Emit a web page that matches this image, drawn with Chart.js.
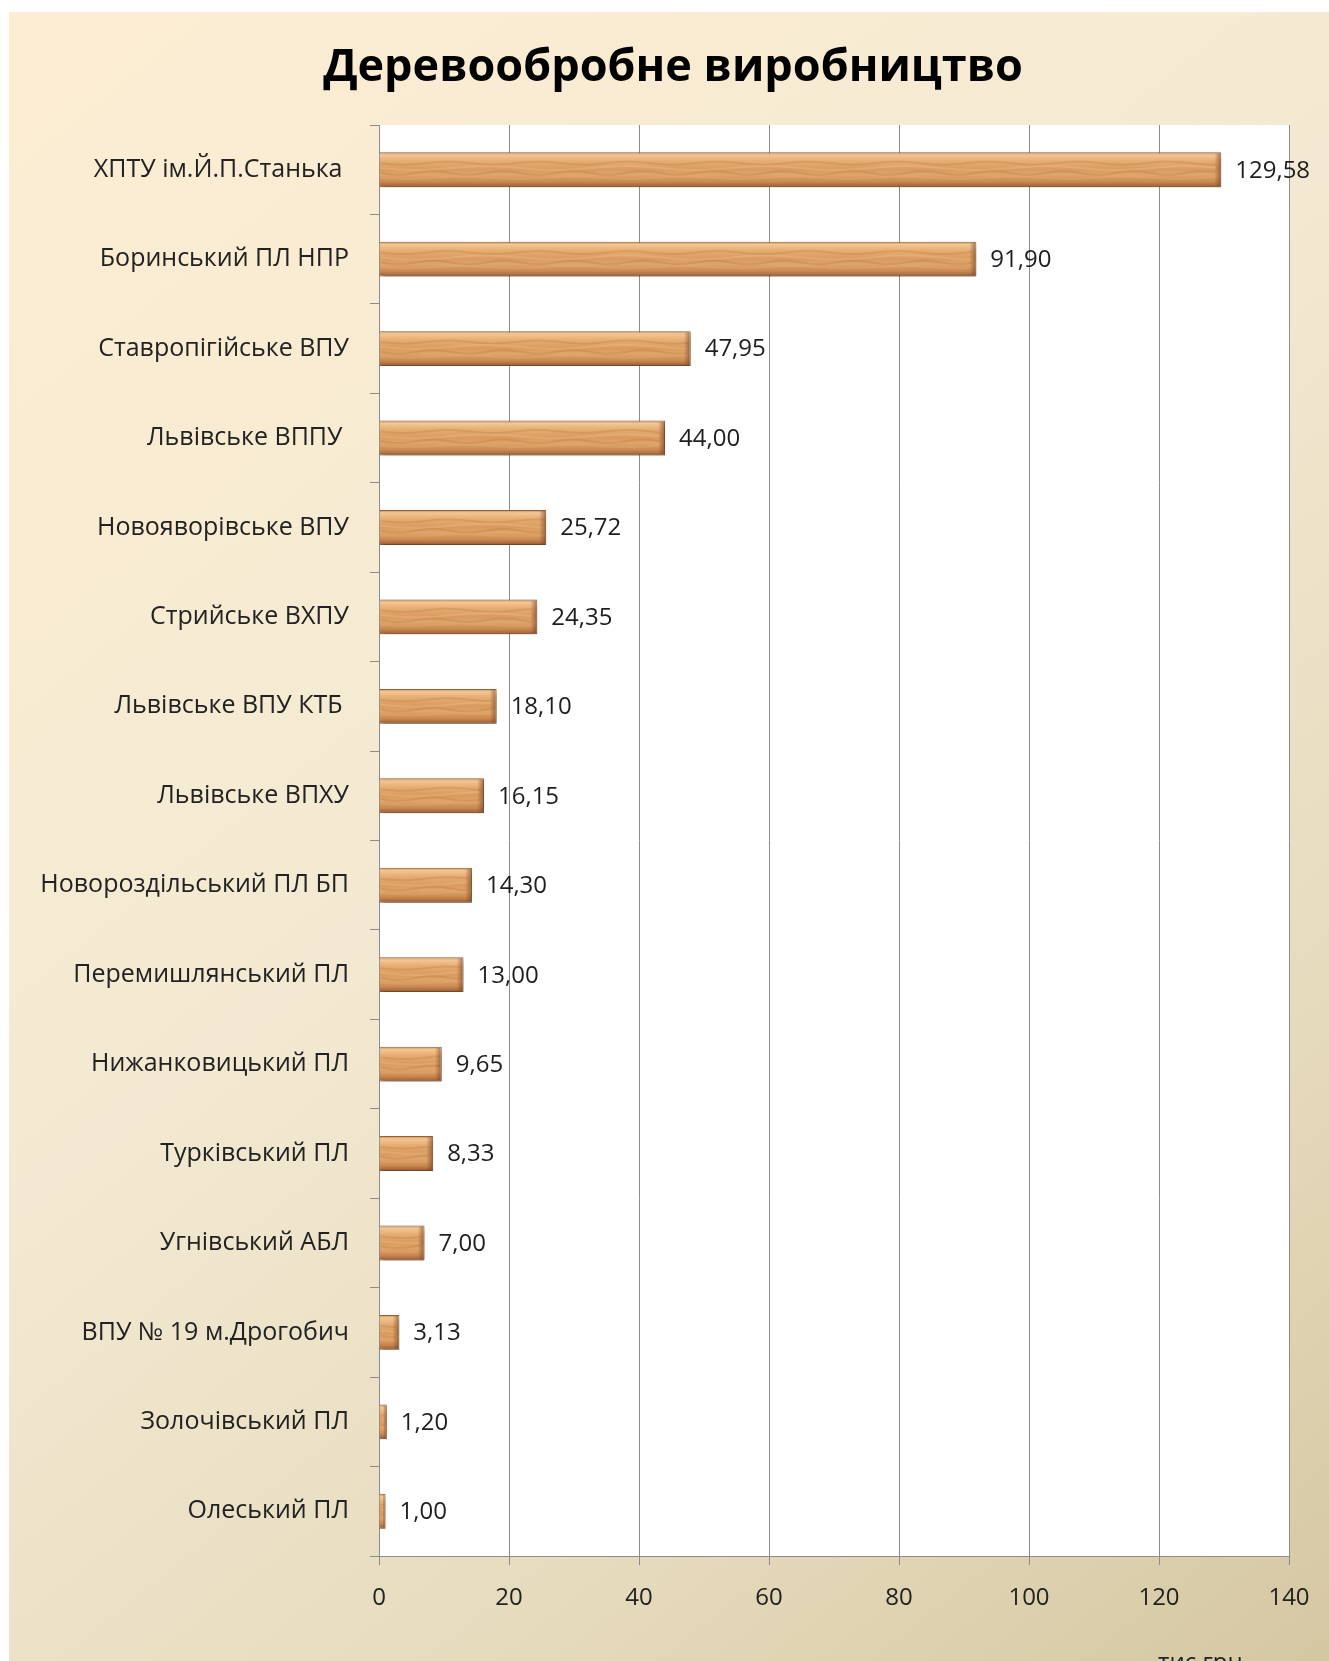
<!DOCTYPE html>
<html>
<head>
<meta charset="utf-8">
<script src="https://cdn.jsdelivr.net/npm/chart.js@4/dist/chart.umd.min.js"></script>
<style>
    html, body { margin: 0; padding: 0; background: #fff; }
    #wrap { width: 1329px; height: 1661px; }
</style>
</head>
<body>
<div id="wrap"><canvas id="chart"></canvas></div>
<script>
    const categories = [
        'ХПТУ ім.Й.П.Станька ',
        'Боринський ПЛ НПР',
        'Ставропігійське ВПУ',
        'Львівське ВППУ ',
        'Новояворівське ВПУ',
        'Стрийське ВХПУ',
        'Львівське ВПУ КТБ ',
        'Львівське ВПХУ',
        'Новороздільський ПЛ БП',
        'Перемишлянський ПЛ',
        'Нижанковицький ПЛ',
        'Турківський ПЛ',
        'Угнівський АБЛ',
        'ВПУ № 19 м.Дрогобич',
        'Золочівський ПЛ',
        'Олеський ПЛ'
    ];
    const values = [129.58, 91.90, 47.95, 44.00, 25.72, 24.35, 18.10, 16.15, 14.30, 13.00, 9.65, 8.33, 7.00, 3.13, 1.20, 1.00];
    const xTicks = [0, 20, 40, 60, 80, 100, 120, 140];
    const unitLabel = 'тис.грн.';

    Chart.defaults.font.family = 'Open Sans';
    Chart.defaults.color = '#222';

    const formatValue = v => v.toFixed(2).replace('.', ',');

    // a few soft wavy streaks so the bars read as wood
    function drawGrain(ctx, left, top, w, h) {
        ctx.save();
        ctx.beginPath();
        ctx.rect(left, top, w, h);
        ctx.clip();
        const rows = [
            { f: 0.3, a: 0.2, c: '#a5622f', amp: 1.5, len: 90 },
            { f: 0.45, a: 0.25, c: '#f5cf9f', amp: 2, len: 140 },
            { f: 0.6, a: 0.22, c: '#a9672f', amp: 1.8, len: 70 },
            { f: 0.74, a: 0.2, c: '#edbb85', amp: 1.2, len: 110 }
        ];
        rows.forEach(r => {
            ctx.globalAlpha = r.a;
            ctx.strokeStyle = r.c;
            ctx.lineWidth = 2;
            ctx.beginPath();
            for (let x = left; x <= left + w; x += 4) {
                const y = top + h * r.f + Math.sin((x - left) / r.len * Math.PI * 2) * r.amp;
                if (x === left) ctx.moveTo(x, y); else ctx.lineTo(x, y);
            }
            ctx.stroke();
        });
        // darker bevel at the right end
        ctx.globalAlpha = 1;
        const endW = Math.min(6, w / 2);
        const eg = ctx.createLinearGradient(left + w - endW, 0, left + w, 0);
        eg.addColorStop(0, 'rgba(120, 70, 40, 0)');
        eg.addColorStop(1, 'rgba(110, 60, 30, 0.55)');
        ctx.fillStyle = eg;
        ctx.fillRect(left + w - endW, top, endW, h);
        ctx.restore();
    }

    // background, white plot area, bar shading and value labels
    const decor = {
        id: 'decor',
        beforeDraw(chart) {
            const { ctx, width, height, chartArea } = chart;
            ctx.save();
            ctx.fillStyle = '#fff';
            ctx.fillRect(0, 0, width, height);
            const bg = ctx.createLinearGradient(0, 0, width, height);
            bg.addColorStop(0, '#fdeed3');
            bg.addColorStop(0.45, '#f3e9d2');
            bg.addColorStop(0.75, '#e6dbbd');
            bg.addColorStop(1, '#d5c7a2');
            ctx.fillStyle = bg;
            ctx.fillRect(9, 12, width - 9, height - 12);
            ctx.fillStyle = '#fff';
            ctx.fillRect(chartArea.left, chartArea.top, chartArea.right - chartArea.left, chartArea.bottom - chartArea.top);
            ctx.restore();
        },
        beforeDatasetsDraw(chart) {
            const { ctx } = chart;
            chart.getDatasetMeta(0).data.forEach(bar => {
                const top = bar.y - bar.height / 2;
                const g = ctx.createLinearGradient(0, top, 0, top + bar.height);
                g.addColorStop(0, '#c58650');
                g.addColorStop(0.08, '#f3c795');
                g.addColorStop(0.25, '#e6ad72');
                g.addColorStop(0.5, '#d99a5e');
                g.addColorStop(0.65, '#e0a56a');
                g.addColorStop(0.85, '#c9884f');
                g.addColorStop(0.95, '#a86a3e');
                g.addColorStop(1, '#8a5531');
                bar.options.backgroundColor = g;
            });
            ctx.save();
            ctx.shadowColor = 'rgba(0, 0, 0, 0.35)';
            ctx.shadowBlur = 5;
            ctx.shadowOffsetX = 2;
            ctx.shadowOffsetY = 3;
        },
        afterDatasetsDraw(chart) {
            const { ctx } = chart;
            ctx.restore();
            const bars = chart.getDatasetMeta(0).data;
            bars.forEach(bar => {
                const left = Math.min(bar.x, bar.base);
                drawGrain(ctx, left + 1, bar.y - bar.height / 2 + 1, Math.abs(bar.x - bar.base) - 2, bar.height - 2);
            });
            ctx.save();
            ctx.font = '24px "Open Sans"';
            ctx.fillStyle = '#1e1e1e';
            ctx.textAlign = 'left';
            ctx.textBaseline = 'middle';
            bars.forEach((bar, i) => {
                ctx.fillText(formatValue(values[i]), bar.x + 14, bar.y + 1);
            });
            ctx.restore();
        },
        afterDraw(chart) {
            const { ctx, chartArea } = chart;
            ctx.save();
            ctx.font = '24px "Open Sans"';
            ctx.fillStyle = '#222';
            ctx.textAlign = 'right';
            ctx.textBaseline = 'alphabetic';
            ctx.fillText(unitLabel, chartArea.right - 40, chartArea.bottom + 114);
            ctx.restore();
        }
    };

    new Chart(document.getElementById('chart'), {
        type: 'bar',
        plugins: [decor],
        data: {
            labels: categories,
            datasets: [{
                data: values,
                backgroundColor: () => '#d99a5e',
                borderColor: '#9a6038',
                borderWidth: 1,
                barPercentage: 0.39,
                categoryPercentage: 1
            }]
        },
        options: {
            indexAxis: 'y',
            responsive: true,
            maintainAspectRatio: false,
            animation: false,
            layout: {
                padding: { left: 57, right: 40, top: 0, bottom: 0 }
            },
            plugins: {
                legend: { display: false },
                tooltip: { enabled: false },
                title: {
                    display: true,
                    text: 'Деревообробне виробництво',
                    color: '#000',
                    font: { size: 45, weight: 'bold', lineHeight: 1.2 },
                    padding: { top: 41, bottom: 30 }
                }
            },
            scales: {
                x: {
                    min: 0,
                    max: 140,
                    afterBuildTicks(scale) {
                        scale.ticks = xTicks.map(v => ({ value: v }));
                    },
                    afterFit(scale) {
                        scale.height = 105;
                    },
                    grid: {
                        color: '#8c8c8c',
                        tickLength: 9
                    },
                    border: { color: '#8c8c8c' },
                    ticks: {
                        padding: 19,
                        font: { size: 24 },
                        color: '#222'
                    }
                },
                y: {
                    afterFit(scale) {
                        scale.width = 322;
                        // long labels may run into the left padding
                        scale._computeLabelArea = () => undefined;
                    },
                    grid: {
                        drawOnChartArea: false,
                        offset: true,
                        color: '#8c8c8c',
                        tickLength: 9
                    },
                    border: { color: '#8c8c8c' },
                    ticks: {
                        padding: 21,
                        font: { size: 25 },
                        color: '#222',
                        autoSkip: false
                    }
                }
            }
        }
    });
</script>
</body>
</html>
